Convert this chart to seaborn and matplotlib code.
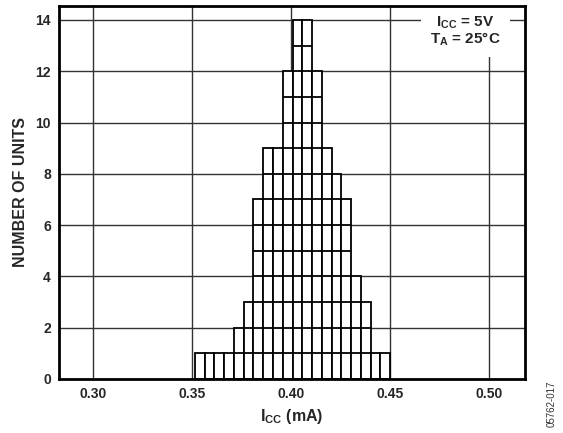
import numpy as np
import pandas as pd
import matplotlib
matplotlib.use('Agg')
import matplotlib.pyplot as plt
import seaborn as sns

# histogram data: supply current bins (mA) and unit counts per bin
bin_left = 0.3515
bin_width = 0.004925
counts = [1, 1, 1, 1, 2, 3, 7, 9, 9, 12, 14, 14, 12, 9, 8, 7, 4, 3, 1, 1]
x_ticks = [0.30, 0.35, 0.40, 0.45, 0.50]
y_ticks = [0, 2, 4, 6, 8, 10, 12, 14]

edges = bin_left + bin_width * np.arange(len(counts) + 1)
centers = (edges[:-1] + edges[1:]) / 2
df = pd.DataFrame({'icc': centers, 'n': counts})

sns.set_style('white')
plt.rcParams['font.family'] = ['Liberation Sans', 'DejaVu Sans']
plt.rcParams['font.weight'] = 'bold'
plt.rcParams['mathtext.fontset'] = 'custom'
plt.rcParams['mathtext.rm'] = 'Liberation Sans:bold'
plt.rcParams['mathtext.bf'] = 'Liberation Sans:bold'
plt.rcParams['mathtext.it'] = 'Liberation Sans:bold'

fig = plt.figure(figsize=(5.63, 4.33), dpi=100)
ax = fig.add_axes([0.105, 0.125, 0.8275, 0.862])

sns.histplot(data=df, x='icc', weights='n', bins=list(edges), ax=ax,
             color='white', edgecolor='black', linewidth=1.3, alpha=1, zorder=2)

# unit boxes inside each bar
for i, c in enumerate(counts):
    if c > 1:
        ax.hlines(np.arange(1, c), edges[i], edges[i + 1], color='black', lw=1.3, zorder=3)

ax.set_xlim(0.283, 0.518)
ax.set_ylim(0, 14.56)
ax.set_xticks(x_ticks)
ax.set_xticklabels([f'{v:.2f}' for v in x_ticks])
ax.set_yticks(y_ticks)
ax.tick_params(length=0, labelsize=10, pad=6)
for lab in ax.get_xticklabels() + ax.get_yticklabels():
    lab.set_fontweight('bold')
ax.grid(True, color='#333333', lw=1.0)
ax.set_axisbelow(True)
for s in ax.spines.values():
    s.set_color('black')
    s.set_linewidth(2)
    s.set_zorder(10)

ax.set_xlabel(r'$\mathregular{I_{CC}}$ (mA)', fontsize=11.5, fontweight='bold', labelpad=4)
ax.set_ylabel('NUMBER OF UNITS', fontsize=11.5, fontweight='bold', labelpad=5)

ax.text(0.4880, 13.55, '$\\mathregular{I_{CC}}$ = 5V\n$\\mathregular{T_A}$ = 25°C',
        ha='center', va='center', fontsize=11, fontweight='bold', zorder=5,
        linespacing=0.95,
        bbox=dict(facecolor='white', edgecolor='none', boxstyle='square,pad=0.6'))

fig.text(0.979, 0.067, '05762-017', rotation=90, fontsize=7, fontweight='normal',
         color='#333333', ha='center', va='center')

fig.savefig('out.png', dpi=100)
